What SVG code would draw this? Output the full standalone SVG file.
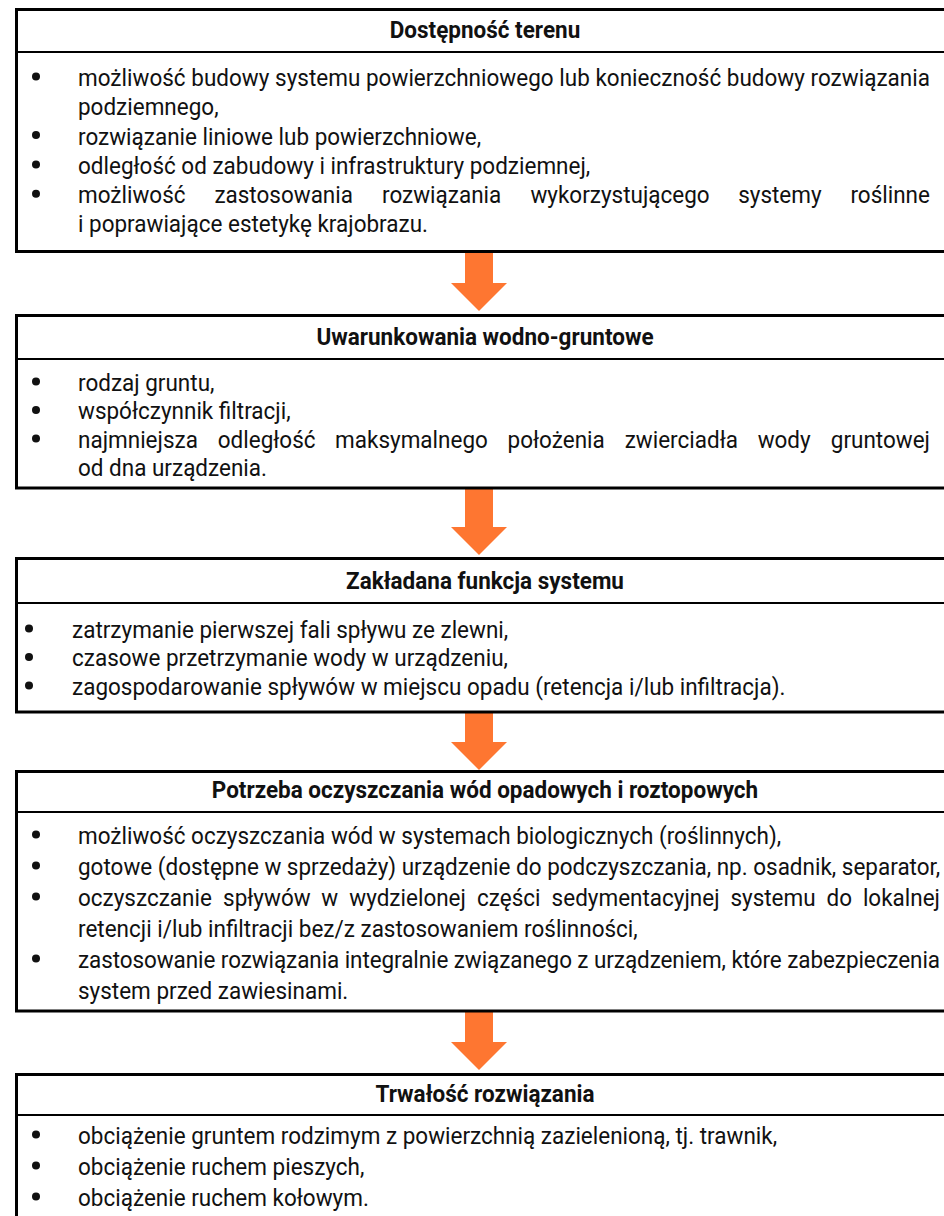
<svg xmlns="http://www.w3.org/2000/svg" width="944" height="1216" viewBox="0 0 944 1216">
<defs>
<style>
.box{fill:#fff;stroke:#000;stroke-width:3}
.sep{stroke:#000;stroke-width:2}
.h{font-family:Roboto,"Liberation Sans",sans-serif;font-weight:700;font-size:24px;fill:#111;text-anchor:middle}
.t{font-family:Roboto,"Liberation Sans",sans-serif;font-size:24px;fill:#111}
.e{text-anchor:end}
.b{fill:#111}
.arrow{fill:#FE7631}
</style>
</defs>
<rect width="944" height="1216" fill="#fff"/>

<g id="connectors">
<path class="arrow" d="M465,252 H493 V283 H507 L479,311 L451,283 H465 Z"/>
<path class="arrow" d="M465,489 H493 V527 H507 L479,555 L451,527 H465 Z"/>
<path class="arrow" d="M465,712 H493 V742 H507 L479,770 L451,742 H465 Z"/>
<path class="arrow" d="M465,1012 H493 V1042 H507 L479,1070 L451,1042 H465 Z"/>
</g>

<g id="box1">
<rect class="box" x="16.5" y="9.5" width="940" height="242"/>
<line class="sep" x1="16" y1="52" x2="960" y2="52"/>
<circle class="b" cx="36" cy="76.5" r="4"/>
<circle class="b" cx="36" cy="135.1" r="4"/>
<circle class="b" cx="36" cy="164.4" r="4"/>
<circle class="b" cx="36" cy="193.7" r="4"/>
<g transform="scale(0.937 1)">
<text class="h" x="517.6" y="38">Dostępność terenu</text>
<text class="t" x="83.24" y="86" textLength="909.3" lengthAdjust="spacing">możliwość budowy systemu powierzchniowego lub konieczność budowy rozwiązania</text>
<text class="t" x="83.24" y="115.3">podziemnego,</text>
<text class="t" x="83.24" y="144.6">rozwiązanie liniowe lub powierzchniowe,</text>
<text class="t" x="83.24" y="173.9">odległość od zabudowy i infrastruktury podziemnej,</text>
<text class="t" x="83.24" y="203.2">możliwość</text>
<text class="t" x="228.8" y="203.2">zastosowania</text>
<text class="t" x="407.7" y="203.2">rozwiązania</text>
<text class="t" x="566.1" y="203.2">wykorzystującego</text>
<text class="t" x="787.8" y="203.2">systemy</text>
<text class="t e" x="992.5" y="203.2">roślinne</text>
<text class="t" x="83.24" y="232.5">i poprawiające estetykę krajobrazu.</text>
</g>
</g>

<g id="box2">
<rect class="box" x="16.5" y="315.5" width="940" height="172.5"/>
<line class="sep" x1="16" y1="359" x2="960" y2="359"/>
<circle class="b" cx="36" cy="381.5" r="4"/>
<circle class="b" cx="36" cy="410" r="4"/>
<circle class="b" cx="36" cy="438.5" r="4"/>
<g transform="scale(0.937 1)">
<text class="h" x="517.6" y="345">Uwarunkowania wodno-gruntowe</text>
<text class="t" x="83.24" y="391">rodzaj gruntu,</text>
<text class="t" x="83.24" y="419.5">współczynnik filtracji,</text>
<text class="t" x="83.24" y="448">najmniejsza</text>
<text class="t" x="232.4" y="448">odległość</text>
<text class="t" x="357.6" y="448">maksymalnego</text>
<text class="t" x="541.7" y="448">położenia</text>
<text class="t" x="666.7" y="448">zwierciadła</text>
<text class="t" x="808.6" y="448">wody</text>
<text class="t e" x="992.5" y="448">gruntowej</text>
<text class="t" x="83.24" y="476.5">od dna urządzenia.</text>
</g>
</g>

<g id="box3">
<rect class="box" x="16.5" y="558.5" width="940" height="153.5"/>
<line class="sep" x1="16" y1="603" x2="960" y2="603"/>
<circle class="b" cx="29" cy="628.5" r="4"/>
<circle class="b" cx="29" cy="657" r="4"/>
<circle class="b" cx="29" cy="685.5" r="4"/>
<g transform="scale(0.937 1)">
<text class="h" x="517.6" y="589">Zakładana funkcja systemu</text>
<text class="t" x="76.84" y="638">zatrzymanie pierwszej fali spływu ze zlewni,</text>
<text class="t" x="76.84" y="666.5">czasowe przetrzymanie wody w urządzeniu,</text>
<text class="t" x="76.84" y="695">zagospodarowanie spływów w miejscu opadu (retencja i/lub infiltracja).</text>
</g>
</g>

<g id="box4">
<rect class="box" x="16.5" y="771.5" width="940" height="239.5"/>
<line class="sep" x1="16" y1="812" x2="960" y2="812"/>
<circle class="b" cx="36" cy="834.5" r="4"/>
<circle class="b" cx="36" cy="865.5" r="4"/>
<circle class="b" cx="36" cy="896.5" r="4"/>
<circle class="b" cx="36" cy="958.5" r="4"/>
<g transform="scale(0.937 1)">
<text class="h" x="517.6" y="798">Potrzeba oczyszczania wód opadowych i roztopowych</text>
<text class="t" x="83.24" y="844">możliwość oczyszczania wód w systemach biologicznych (roślinnych),</text>
<text class="t" x="83.24" y="875">gotowe (dostępne w sprzedaży) urządzenie do podczyszczania, np. osadnik, separator,</text>
<text class="t" x="83.24" y="906">oczyszczanie</text>
<text class="t" x="238.05" y="906">spływów</text>
<text class="t" x="342.9" y="906">w</text>
<text class="t" x="372.8" y="906">wydzielonej</text>
<text class="t" x="509.1" y="906">części</text>
<text class="t" x="588.7" y="906">sedymentacyjnej</text>
<text class="t" x="779.5" y="906">systemu</text>
<text class="t" x="882.1" y="906">do</text>
<text class="t e" x="1003.2" y="906">lokalnej</text>
<text class="t" x="83.24" y="937">retencji i/lub infiltracji bez/z zastosowaniem roślinności,</text>
<text class="t" x="83.24" y="968" textLength="920" lengthAdjust="spacing">zastosowanie rozwiązania integralnie związanego z urządzeniem, które zabezpieczenia</text>
<text class="t" x="83.24" y="999">system przed zawiesinami.</text>
</g>
</g>

<g id="box5">
<rect class="box" x="16.5" y="1074.5" width="940" height="170"/>
<line class="sep" x1="16" y1="1115" x2="960" y2="1115"/>
<circle class="b" cx="36" cy="1134.5" r="4"/>
<circle class="b" cx="36" cy="1165.5" r="4"/>
<circle class="b" cx="36" cy="1196.5" r="4"/>
<g transform="scale(0.937 1)">
<text class="h" x="517.6" y="1102">Trwałość rozwiązania</text>
<text class="t" x="83.24" y="1144">obciążenie gruntem rodzimym z powierzchnią zazielenioną, tj. trawnik,</text>
<text class="t" x="83.24" y="1175">obciążenie ruchem pieszych,</text>
<text class="t" x="83.24" y="1206">obciążenie ruchem kołowym.</text>
</g>
</g>
</svg>
